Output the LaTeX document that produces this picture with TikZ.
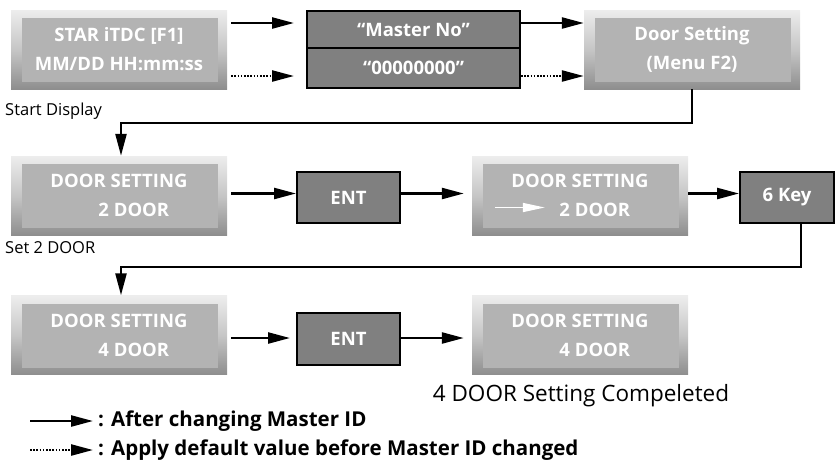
\documentclass[tikz,border=0pt]{standalone}
\usepackage{fontspec}
\setmainfont{Open Sans}
\usetikzlibrary{arrows.meta,shadings}
\definecolor{lcdin}{HTML}{B3B3B3}
\definecolor{lcdtop}{HTML}{EDEDED}
\definecolor{lcdmid}{HTML}{C6C6C6}
\definecolor{lcdbot}{HTML}{8E8E8E}
\definecolor{keyfill}{HTML}{808080}
\begin{document}
\begin{tikzpicture}[x=1pt,y=-1pt,
  lcd/.style={minimum width=216pt,minimum height=79pt,inner sep=0pt,
    top color=lcdtop,bottom color=lcdbot,middle color=lcdmid,
    path picture={\fill[lcdin] ([xshift=11pt,yshift=-8pt]path picture bounding box.north west) rectangle ([xshift=-9pt,yshift=7pt]path picture bounding box.south east);},
    text=white,font=\bfseries\fontsize{18.5}{29}\selectfont},
  keybox/.style={draw=black,line width=2pt,fill=keyfill,inner sep=0pt,text=white,font=\bfseries\fontsize{18.5}{22}\selectfont},
  arr/.style={line width=2.4pt,-{Triangle[length=22pt,width=11pt]}},
  darr/.style={arr,dash pattern=on 1.6pt off 1.6pt},
  warr/.style={white,line width=1.5pt,-{Triangle[length=22pt,width=9pt]}},
  lbl/.style={font=\fontsize{16.5}{19}\selectfont,anchor=west,inner sep=0pt},
  leg/.style={font=\bfseries\fontsize{20.5}{24}\selectfont,anchor=west,inner sep=0pt}
]
\useasboundingbox (0,0) rectangle (837,467);
% row 1
\node[lcd,align=center] (A) at (119,49.5) {STAR iTDC [F1]\\MM/DD HH:mm:ss};
\node[keybox,minimum width=213pt,minimum height=37pt] (m1) at (413.5,29.5) {“Master No”};
\node[keybox,minimum width=213pt,minimum height=40pt] (m2) at (413.5,68) {“00000000”};
\node[lcd,align=center] (D) at (692,49.5) {Door Setting\\(Menu F2)};
\draw[arr] ([xshift=4pt,yshift=26.5pt]A.east) -- ([xshift=-12pt,yshift=26.5pt]A.east -| m1.west);
\draw[darr] ([xshift=4pt,yshift=-26.5pt]A.east) -- ([xshift=-12pt,yshift=-26.5pt]A.east -| m1.west);
\draw[arr] ([yshift=26.5pt]D.west -| m1.east) -- ([yshift=26.5pt]D.west);
\draw[darr] ([yshift=-26.5pt]D.west -| m2.east) -- ([yshift=-26.5pt]D.west);
\node[lbl] (s1) at (5,111) {Start Display};
% row 2
\node[lcd,align=left] (B) at (119,195.5) {DOOR SETTING\\\hspace*{48pt}2 DOOR};
\node[keybox,minimum width=103pt,minimum height=51pt] (E1) at (348.5,197.5) {ENT};
\node[lcd,align=left] (C) at (580,195.5) {DOOR SETTING\\\hspace*{48pt}2 DOOR};
\node[keybox,minimum width=94pt,minimum height=51pt] (K) at (787,197.5) {6 Key};
\coordinate (c1) at (692,123);
\coordinate (c2) at (121,123);
\draw[arr] (D.south) -- (c1) -- (c2) -- (c2 |- B.north);
\draw[arr] ([xshift=4pt,yshift=2pt]B.east) -- ([yshift=2pt]B.east -| E1.west);
\draw[arr] ([yshift=2pt]C.west -| E1.east) -- ([xshift=-8pt,yshift=2pt]C.west);
\draw[arr] ([yshift=2pt]C.east) -- ([yshift=2pt]C.east -| K.west);
\draw[warr] ([xshift=23pt,yshift=-12pt]C.west) -- ++(50pt,0);
\node[lbl] (s2) at (5,248) {Set 2 DOOR};
% row 3
\node[lcd,align=left] (F) at (119,335) {DOOR SETTING\\\hspace*{48pt}4 DOOR};
\node[keybox,minimum width=103pt,minimum height=52pt] (E2) at (348.5,339) {ENT};
\node[lcd,align=left] (G) at (580,335) {DOOR SETTING\\\hspace*{48pt}4 DOOR};
\coordinate (c3) at (801,267);
\coordinate (c4) at (121,267);
\draw[arr] (c3 |- K.south) -- (c3) -- (c4) -- (c4 |- F.north);
\draw[arr] ([xshift=4pt,yshift=-3pt]F.east) -- ([xshift=-6pt,yshift=-3pt]F.east -| E2.west);
\draw[arr] ([yshift=-3pt]G.west -| E2.east) -- ([xshift=-8pt,yshift=-3pt]G.west);
\node[font=\fontsize{22.5}{26}\selectfont,inner sep=0pt] (done) at (581,396) {4 DOOR Setting Compeleted};
% legend
\coordinate (l1) at (30,421);
\coordinate (l2) at (30,450);
\node[leg] (t1) at (98,421) {: After changing Master ID};
\node[leg] (t2) at (98,450) {: Apply default value before Master ID changed};
\draw[arr] (l1) -- ([xshift=-5pt]t1.west);
\draw[darr] (l2) -- ([xshift=-5pt]t2.west);
\end{tikzpicture}
\end{document}
